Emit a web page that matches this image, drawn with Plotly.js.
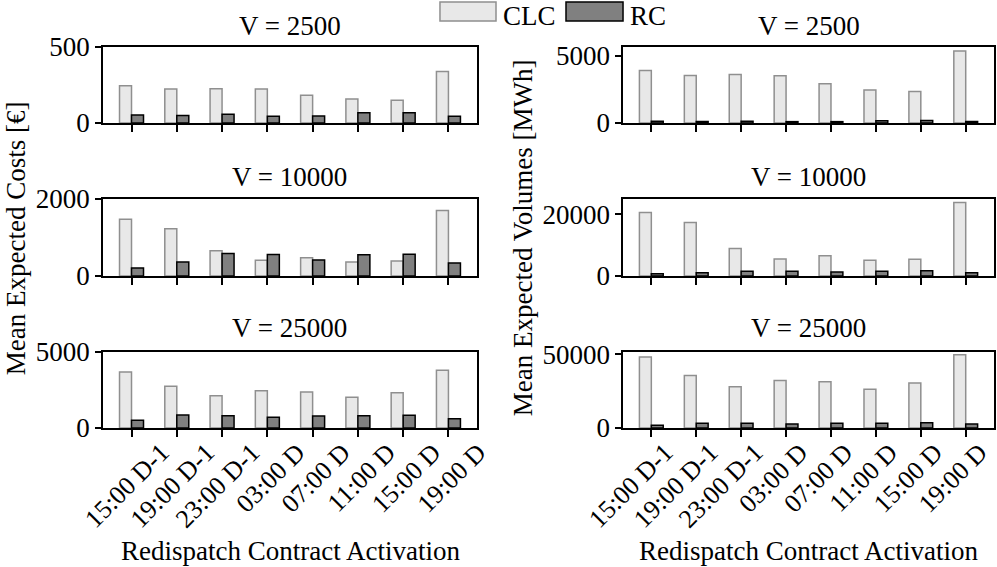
<!DOCTYPE html>
<html>
<head>
<meta charset="utf-8">
<script src="https://cdn.plot.ly/plotly-3.0.1.min.js"></script>
<style>
  html, body { margin: 0; padding: 0; background: #fff; }
  #chart { width: 997px; height: 567px; }
</style>
</head>
<body>
<div id="chart"></div>
<script>
// activation times on the x axis
var categories = ["15:00 D-1", "19:00 D-1", "23:00 D-1", "03:00 D", "07:00 D", "11:00 D", "15:00 D", "19:00 D"];

// mean expected costs [€]
var costClc2500 = [245, 224, 226, 224, 182, 158, 149, 338];
var costRc2500 = [53, 50, 57, 44, 46, 68, 68, 44];
var costClc10000 = [1476, 1231, 655, 410, 472, 367, 393, 1703];
var costRc10000 = [210, 367, 585, 559, 419, 550, 568, 341];
var costClc25000 = [3684, 2741, 2127, 2456, 2368, 2018, 2325, 3794];
var costRc25000 = [504, 855, 811, 702, 789, 811, 833, 614];

// mean expected volumes [MWh]
var volClc2500 = [3902, 3537, 3610, 3512, 2927, 2463, 2341, 5366];
var volRc2500 = [120, 110, 120, 100, 100, 170, 190, 110];
var volClc10000 = [20543, 17283, 8913, 5543, 6522, 5109, 5435, 23804];
var volRc10000 = [760, 1087, 1522, 1522, 1304, 1522, 1739, 1087];
var volClc25000 = [48182, 35682, 27955, 32273, 31364, 26364, 30455, 49773];
var volRc25000 = [1818, 3182, 3182, 2727, 3182, 3182, 3636, 2727];

// y tick values per panel (row1 left, row1 right, row2 left, ...)
var yTicks = [[0, 500], [0, 5000], [0, 2000], [0, 20000], [0, 5000], [0, 50000]];

var panelTitles = ["V = 2500", "V = 10000", "V = 25000"];
var seriesNames = ["CLC", "RC"];

var clcFill = "#e8e8e8", clcEdge = "#8f8f8f";
var rcFill = "#808080", rcEdge = "#000000";
var fontFam = "Liberation Serif, Times New Roman, serif";

var panels = [
    [costClc2500, costRc2500], [volClc2500, volRc2500],
    [costClc10000, costRc10000], [volClc10000, volRc10000],
    [costClc25000, costRc25000], [volClc25000, volRc25000]
];

var data = [];
panels.forEach(function(p, i) {
    var sfx = i === 0 ? "" : String(i + 1);
    data.push({
        type: "bar", x: categories, y: p[0], name: seriesNames[0],
        xaxis: "x" + sfx, yaxis: "y" + sfx, showlegend: false,
        marker: {color: clcFill, line: {color: clcEdge, width: 1.5}}
    });
    data.push({
        type: "bar", x: categories, y: p[1], name: seriesNames[1],
        xaxis: "x" + sfx, yaxis: "y" + sfx, showlegend: false,
        marker: {color: rcFill, line: {color: rcEdge, width: 1.5}}
    });
});

var colDom = [[0.1033, 0.4784], [0.6249, 0.997]];
var rowDom = [[0.7831, 0.9171], [0.5132, 0.649], [0.2451, 0.3792]];
var yRanges = [[0, 500], [0, 5660], [0, 2000], [0, 24920], [0, 5000], [0, 51570]];
var labelShift = [30, 14];

var layout = {
    width: 997, height: 567,
    margin: {l: 0, r: 0, t: 0, b: 0},
    paper_bgcolor: "#fff", plot_bgcolor: "#fff",
    font: {family: fontFam, size: 27, color: "#000"},
    barmode: "group", bargap: 0.47, bargroupgap: 0,
    showlegend: false,
    annotations: [], shapes: []
};

for (var i = 0; i < 6; i++) {
    var sfx = i === 0 ? "" : String(i + 1);
    var row = Math.floor(i / 2), col = i % 2;
    layout["xaxis" + sfx] = {
        domain: colDom[col], anchor: "y" + sfx,
        range: [-0.63, 7.63], type: "category",
        showline: true, mirror: true, linecolor: "#000", linewidth: 1.5,
        ticks: "outside", ticklen: 7, tickwidth: 1.5, tickcolor: "#000",
        showgrid: false, zeroline: false,
        showticklabels: row === 2, tickangle: -45,
        ticklabelshift: labelShift[col], ticklabelstandoff: -10,
        tickfont: {size: 26}
    };
    layout["yaxis" + sfx] = {
        domain: rowDom[row], anchor: "x" + sfx,
        range: yRanges[i], tickvals: yTicks[i],
        ticktext: yTicks[i].map(String),
        showline: true, mirror: true, linecolor: "#000", linewidth: 1.5,
        ticks: "outside", ticklen: 6, tickwidth: 1.5, tickcolor: "#000",
        showgrid: false, zeroline: false,
        tickfont: {size: 27}
    };
    layout.annotations.push({
        text: panelTitles[row], xref: "paper", yref: "paper",
        x: (colDom[col][0] + colDom[col][1]) / 2, y: [0.954, 0.688, 0.4215][row],
        xanchor: "center", yanchor: "middle", showarrow: false
    });
}

// axis titles
layout.annotations.push(
    {text: "Mean Expected Costs [€]", xref: "paper", yref: "paper", x: 0, y: 0.58,
     textangle: -90, xanchor: "left", yanchor: "middle", showarrow: false, borderpad: 0},
    {text: "Mean Expected Volumes [MWh]", xref: "paper", yref: "paper", x: 0.5246, y: 0.58,
     textangle: -90, xanchor: "center", yanchor: "middle", showarrow: false},
    {text: "Redispatch Contract Activation", xref: "paper", yref: "paper", x: 0.291, y: 0.028,
     xanchor: "center", yanchor: "middle", showarrow: false},
    {text: "Redispatch Contract Activation", xref: "paper", yref: "paper", x: 0.811, y: 0.028,
     xanchor: "center", yanchor: "middle", showarrow: false}
);

// legend drawn at the top centre
layout.shapes.push(
    {type: "rect", xref: "paper", yref: "paper", x0: 0.4413, x1: 0.4975, y0: 0.963, y1: 0.9965,
     fillcolor: clcFill, line: {color: clcEdge, width: 1.5}},
    {type: "rect", xref: "paper", yref: "paper", x0: 0.5677, x1: 0.6249, y0: 0.963, y1: 0.9965,
     fillcolor: rcFill, line: {color: rcEdge, width: 1.5}}
);
layout.annotations.push(
    {text: seriesNames[0], xref: "paper", yref: "paper", x: 0.5035, y: 1,
     xanchor: "left", yanchor: "top", showarrow: false, borderpad: 0},
    {text: seriesNames[1], xref: "paper", yref: "paper", x: 0.631, y: 1,
     xanchor: "left", yanchor: "top", showarrow: false, borderpad: 0}
);

Plotly.newPlot("chart", data, layout, {displayModeBar: false});
</script>
</body>
</html>
